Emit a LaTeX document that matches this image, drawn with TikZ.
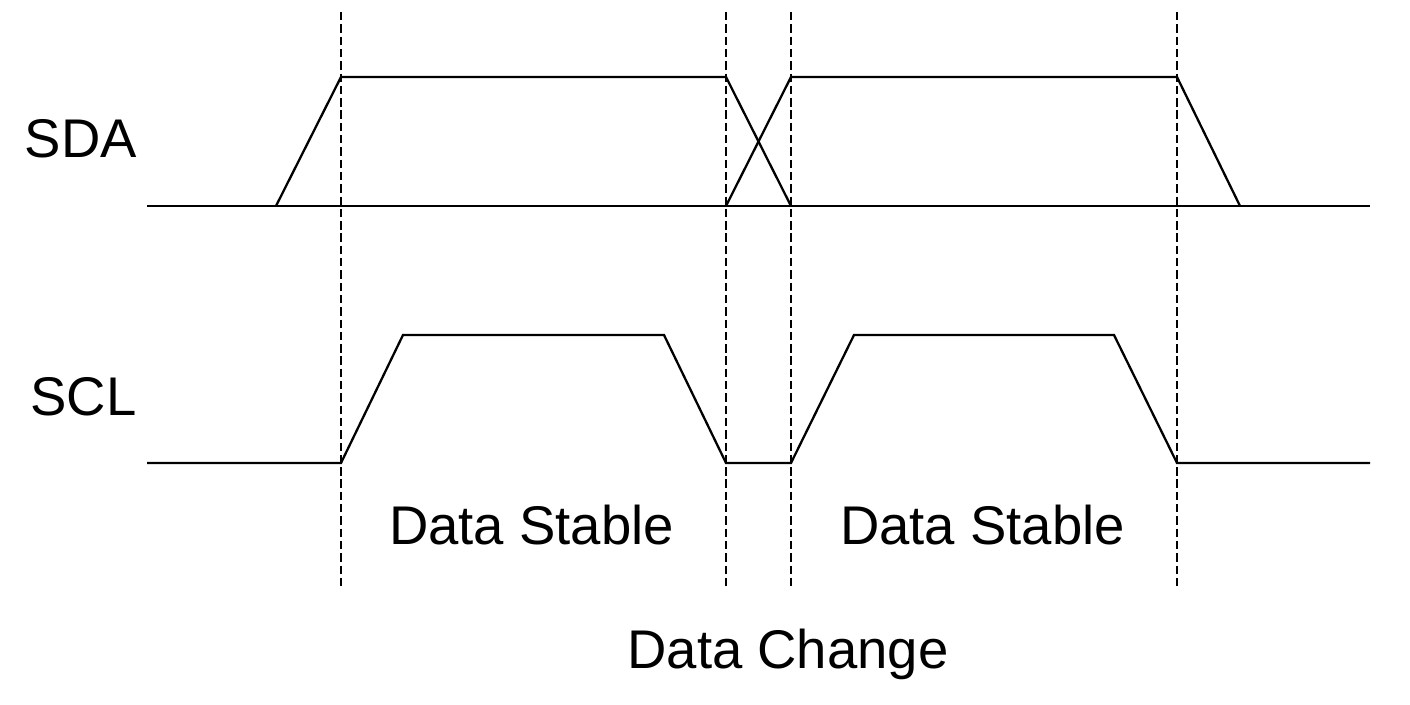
\documentclass[tikz,border=0pt]{standalone}
\usepackage{fontspec}
\setmainfont{Liberation Sans}
\tikzset{
  wave/.style={line width=1.3pt, line join=miter},
  marker/.style={line width=1pt, dash pattern=on 4.8pt off 2.2pt},
  sig/.style={font=\fontsize{31}{37}\selectfont, inner sep=0pt, anchor=base},
}
\begin{document}
\begin{tikzpicture}[x=2cm, y=2cm]
  \useasboundingbox (0,0) rectangle (14.1,7.04);

  % timing markers
  \foreach \t in {3.41, 7.26, 7.91, 11.77}
    \draw[marker] (\t,6.92) -- (\t,1.16);

  % SDA
  \node[sig] (sda) at (0.81,5.46) {SDA};
  \draw[wave] (1.47,4.98) -- (13.70,4.98);
  \draw[wave] (2.76,4.98) -- (3.41,6.27) -- (7.26,6.27) -- (7.91,4.98);
  \draw[wave] (7.26,4.98) -- (7.91,6.27) -- (11.77,6.27) -- (12.40,4.98);

  % SCL
  \node[sig] (scl) at (0.835,2.88) {SCL};
  \draw[wave] (1.47,2.41) -- (3.41,2.41) -- (4.03,3.69) -- (6.64,3.69)
    -- (7.26,2.41) -- (7.91,2.41) -- (8.54,3.69) -- (11.14,3.69)
    -- (11.77,2.41) -- (13.70,2.41);

  % labels
  \node[sig] (stable a) at (5.315,1.60) {Data Stable};
  \node[sig] (stable b) at (9.825,1.60) {Data Stable};
  \node[sig] (change) at (7.88,0.36) {Data Change};
\end{tikzpicture}
\end{document}
